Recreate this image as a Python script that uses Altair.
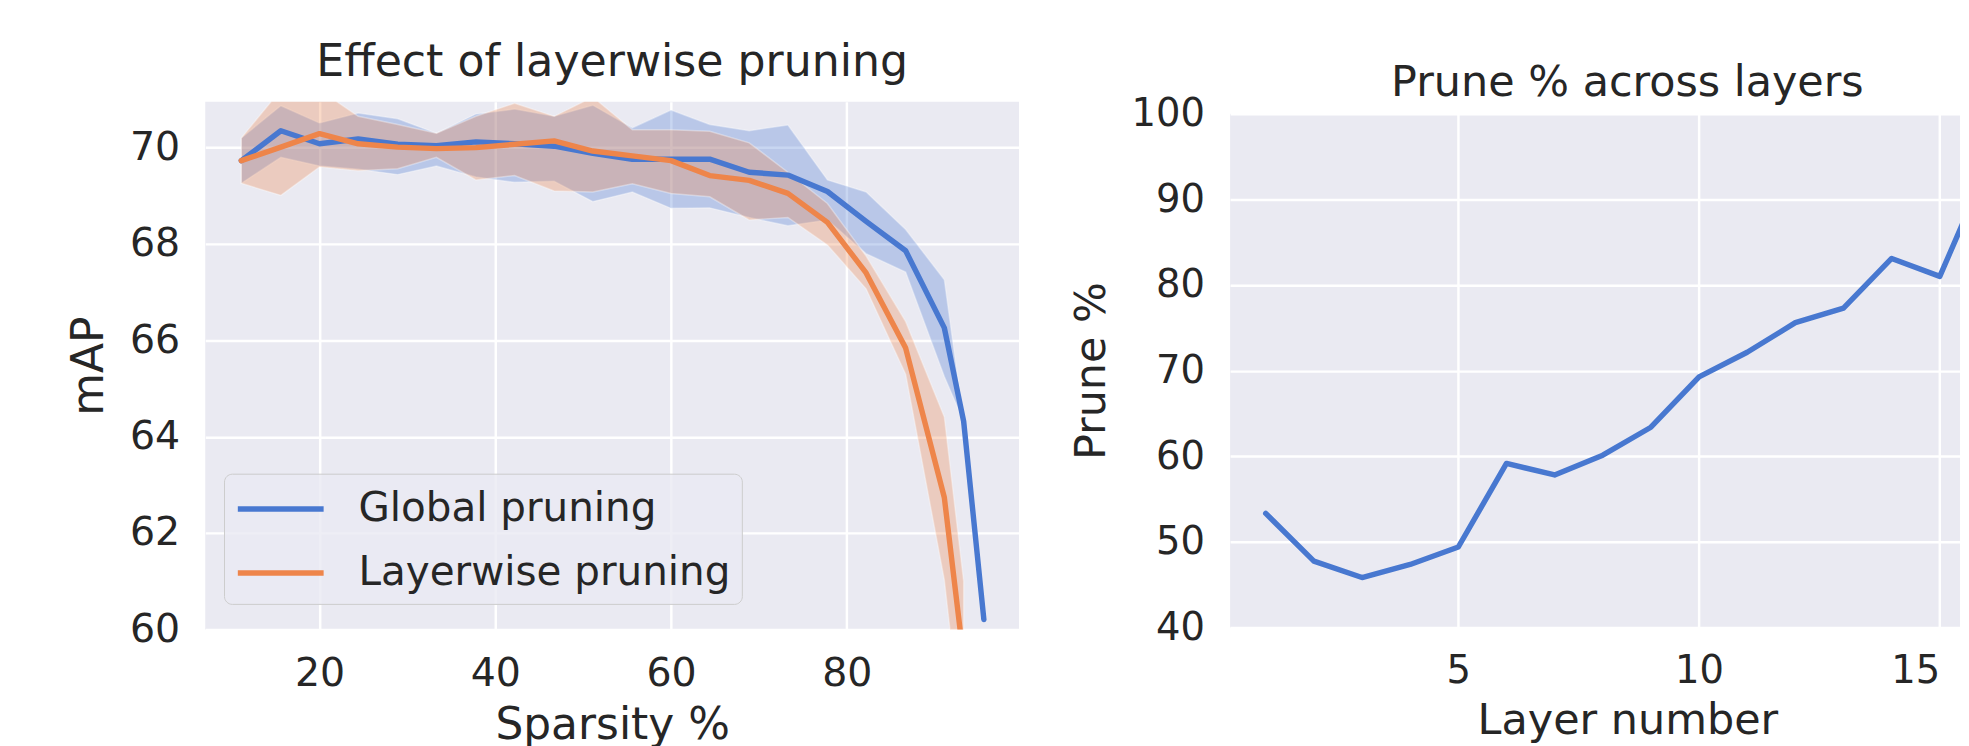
import altair as alt
import pandas as pd

# ---------------- data: left panel (mAP vs sparsity) ----------------
sparsity = [11.1, 15.6, 20.0, 24.4, 28.9, 33.3, 37.8, 42.2, 46.7, 51.1, 55.6,
            60.0, 64.4, 68.9, 73.3, 77.8, 82.2, 86.7, 91.1, 93.3, 95.6]

global_mean = [69.73, 70.35, 70.08, 70.18, 70.07, 70.04, 70.12, 70.08, 70.03, 69.88, 69.76,
               69.76, 69.76, 69.49, 69.43, 69.09, 68.47, 67.86, 66.26, 64.32, 60.21]
global_lo = [69.26, 69.80, 69.62, 69.55, 69.44, 69.62, 69.39, 69.28, 69.30, 68.88, 69.08,
             68.74, 68.75, 68.55, 68.38, 68.50, 67.80, 67.42, 65.25, 64.32, 60.21]
global_hi = [70.20, 70.87, 70.51, 70.72, 70.60, 70.30, 70.70, 70.80, 70.65, 70.88, 70.41,
             70.78, 70.48, 70.35, 70.47, 69.33, 69.08, 68.30, 67.26, 64.32, 60.21]

layer_x = sparsity[:20]
layer_mean = [69.73, 70.01, 70.29, 70.08, 70.01, 69.98, 70.00, 70.07, 70.14, 69.93, 69.83,
              69.73, 69.42, 69.32, 69.05, 68.45, 67.40, 65.84, 62.74, 59.38]
layer_lo = [69.26, 69.01, 69.60, 69.52, 69.56, 69.80, 69.33, 69.42, 69.10, 69.08, 69.25,
            69.05, 68.98, 68.50, 68.55, 67.98, 67.07, 65.30, 61.03, 57.50]
layer_hi = [70.20, 71.20, 71.20, 70.65, 70.48, 70.30, 70.65, 70.92, 70.65, 71.05, 70.37,
            70.37, 70.34, 70.10, 69.49, 68.84, 67.75, 66.39, 64.41, 61.00]

series_names = ["Global pruning", "Layerwise pruning"]
series_colors = ["#4878d0", "#ee854a"]

# ---------------- data: right panel (prune % per layer) ----------------
layers = list(range(1, 17))
prune_pct = [53.33, 47.76, 45.84, 47.37, 49.41, 59.16, 57.82, 60.13, 63.39, 69.27,
             72.15, 75.60, 77.30, 83.10, 81.00, 94.00]

# ---------------- tables ----------------
rows = []
for x, m, lo, hi in zip(sparsity, global_mean, global_lo, global_hi):
    rows.append({"series": series_names[0], "x": x, "mean": m, "lo": lo, "hi": hi})
for x, m, lo, hi in zip(layer_x, layer_mean, layer_lo, layer_hi):
    rows.append({"series": series_names[1], "x": x, "mean": m, "lo": lo, "hi": hi})
df = pd.DataFrame(rows)
df2 = pd.DataFrame({"layer": layers, "prune": prune_pct})

FONT = "DejaVu Sans"
TXT = "#262626"
BG = "#eaeaf2"

color_scale = alt.Scale(domain=series_names, range=series_colors)
x_scale = alt.Scale(domain=[7.0, 99.6], nice=False, zero=False)
y_scale = alt.Scale(domain=[60, 70.95], nice=False, zero=False)

x_axis = alt.Axis(values=[20, 40, 60, 80], title="Sparsity %", titlePadding=10,
                  labelFontSize=40, titleFontSize=44.5, labelPadding=25)
y_axis = alt.Axis(values=[60, 62, 64, 66, 68, 70], title="mAP", titlePadding=18,
                  labelFontSize=40, titleFontSize=44.5, labelPadding=26)


def band_layer(name, color):
    return alt.Chart(df).transform_filter(
        alt.datum.series == name
    ).mark_area(
        clip=True, color=color, fillOpacity=0.3,
        stroke="white", strokeOpacity=0.35, strokeWidth=1.5
    ).encode(
        x=alt.X("x:Q", scale=x_scale, axis=x_axis),
        y=alt.Y("lo:Q", scale=y_scale, axis=y_axis),
        y2="hi:Q",
    )


band_g = band_layer(series_names[0], series_colors[0])
band_l = band_layer(series_names[1], series_colors[1])

line = alt.Chart(df).mark_line(
    clip=True, strokeWidth=5.5, strokeCap="round", strokeJoin="round"
).encode(
    x=alt.X("x:Q", scale=x_scale, axis=x_axis),
    y=alt.Y("mean:Q", scale=y_scale, axis=y_axis),
    color=alt.Color(
        "series:N", scale=color_scale,
        legend=alt.Legend(
            title=None, orient="none", legendX=19, legendY=441,
            symbolType="M-1,0H3", symbolSize=1892, symbolStrokeWidth=5.5,
            symbolFillColor="transparent",
            labelFontSize=41, labelFont=FONT, labelColor=TXT, labelOffset=76,
            labelLimit=800, padding=11.25, rowPadding=20,
            fillColor="rgba(234,234,242,0.8)", strokeColor="#cccccc", cornerRadius=8,
        ),
    ),
)

left = alt.layer(band_g, band_l, line).properties(
    width=825, height=535,
    title=alt.TitleParams(text="Effect of layerwise pruning", fontSize=44.8,
                          offset=16, frame="group"),
)

right = alt.Chart(df2).mark_line(
    clip=True, color="#4878d0", strokeWidth=5.5, strokeCap="round", strokeJoin="round"
).encode(
    x=alt.X("layer:Q", scale=alt.Scale(domain=[0.26, 15.42], nice=False, zero=False),
            axis=alt.Axis(values=[5, 10, 15], title="Layer number", titlePadding=9,
                          titleX=402.8, labelFlush=25, labelFontSize=39,
                          titleFontSize=43.5, labelPadding=25)),
    y=alt.Y("prune:Q", scale=alt.Scale(domain=[40, 100], nice=False, zero=False),
            axis=alt.Axis(values=[40, 50, 60, 70, 80, 90, 100], title="Prune %",
                          titlePadding=18, labelFontSize=39, titleFontSize=43.5,
                          labelPadding=26)),
).properties(
    width=740, height=521,
    title=alt.TitleParams(text="Prune % across layers", fontSize=43.5, offset=-10.5,
                          frame="group", dx=32.8),
)


def spacer(w, h):
    # invisible block used only to stagger the two panels vertically
    return alt.Chart(df2).mark_point(opacity=0, size=0).encode(
        x=alt.X("layer:Q", axis=None),
        y=alt.Y("prune:Q", axis=None),
    ).properties(
        width=w, height=h,
        view=alt.ViewBackground(fill="transparent", stroke="transparent"),
    )


left_col = alt.vconcat(spacer(825, 1), left, spacing=0)
right_col = alt.vconcat(spacer(740, 22.0), right, spacing=0)

chart = alt.hconcat(left_col, right_col, spacing=50).properties(
    padding={"left": 60, "top": 25, "right": 0, "bottom": 0}
).configure_view(
    fill=BG, stroke=None
).configure_axis(
    grid=True, gridColor="white", gridWidth=2.5, gridOpacity=1,
    domain=False, ticks=False,
    labelFont=FONT, labelColor=TXT,
    titleFont=FONT, titleColor=TXT, titleFontWeight="normal",
).configure_title(
    font=FONT, fontWeight="normal", color=TXT
)

chart.save("out.html", embed_options={"renderer": "svg", "actions": False})
